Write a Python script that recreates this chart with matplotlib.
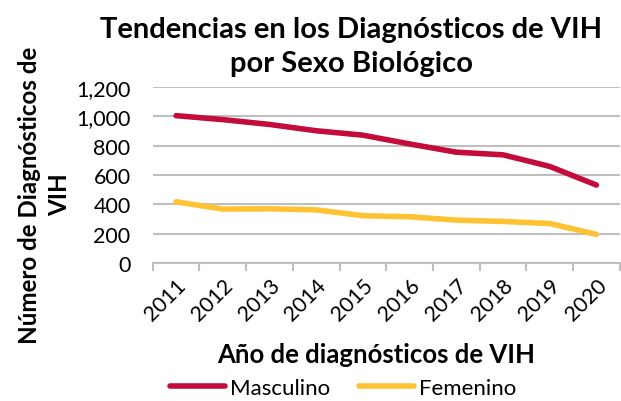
import matplotlib.pyplot as plt
import numpy as np

plt.rcParams['font.family'] = ['Lato', 'DejaVu Sans']

# data
years = ['2011', '2012', '2013', '2014', '2015', '2016', '2017', '2018', '2019', '2020']
masculino = [1005, 978, 945, 902, 872, 812, 756, 738, 659, 532]
femenino = [418, 368, 370, 363, 323, 316, 293, 284, 270, 196]
yticks = [0, 200, 400, 600, 800, 1000, 1200]

red = '#C40C3C'
yellow = '#FFC233'
grid_col = '#BFBFBF'

fig = plt.figure(figsize=(6.21, 4.02), dpi=100)
ax = fig.add_axes([0.246, 0.343, 0.752, 0.438])

x = np.arange(len(years))
ax.plot(x, masculino, color=red, lw=4, solid_capstyle='round', label='Masculino')
ax.plot(x, femenino, color=yellow, lw=4, solid_capstyle='round', label='Femenino')

ax.set_xlim(-0.5, len(years) - 0.5)
ax.set_ylim(0, 1200)
ax.set_yticks(yticks)
ax.set_yticklabels(['{:,}'.format(v) for v in yticks], fontsize=15.5)
ax.yaxis.grid(True, color=grid_col, lw=1.5)
ax.set_axisbelow(True)
ax.tick_params(axis='y', length=0, pad=16)

# category labels at centers, tick marks between categories
ax.set_xticks(x)
ax.set_xticklabels(years, rotation=45, ha='right', rotation_mode='anchor', fontsize=15.5)
ax.tick_params(axis='x', which='major', length=0, pad=8)
ax.set_xticks(np.arange(-0.5, len(years), 1), minor=True)
ax.tick_params(axis='x', which='minor', length=6, width=1.5, color=grid_col)

for s in ['left', 'right', 'top']:
    ax.spines[s].set_visible(False)
ax.spines['bottom'].set_color(grid_col)
ax.spines['bottom'].set_linewidth(1.5)

fig.text(0.566, 0.883, 'Tendencias en los Diagnósticos de VIH\npor Sexo Biológico',
         ha='center', va='center', fontsize=21, fontweight='bold', linespacing=1.35)
fig.text(0.072, 0.515, 'Número de Diagnósticos de\nVIH', rotation=90,
         ha='center', va='center', fontsize=17.4, fontweight='bold', linespacing=1.4)
fig.text(0.605, 0.117, 'Año de diagnósticos de VIH', ha='center', va='center',
         fontsize=18.5, fontweight='bold')

fig.legend(loc='center', bbox_to_anchor=(0.552, 0.032), ncol=2, frameon=False,
           fontsize=16, handlelength=2.5, handletextpad=0.2, columnspacing=1.3,
           borderpad=0.1)

plt.savefig('out.png', dpi=100)
